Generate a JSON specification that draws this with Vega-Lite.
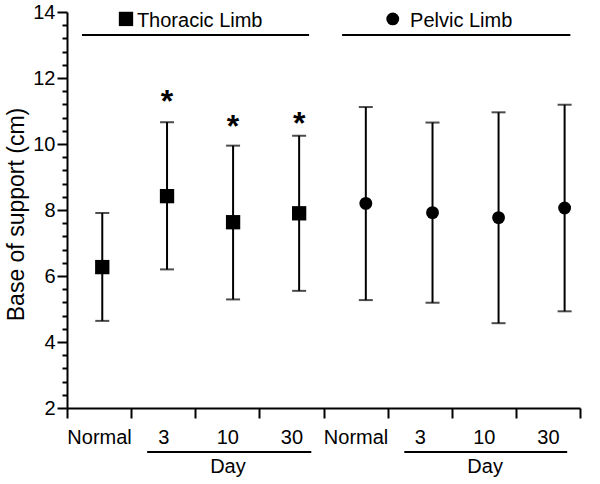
{
  "$schema": "https://vega.github.io/schema/vega-lite/v6.json",
  "width": 513,
  "height": 396,
  "autosize": {"type": "none"},
  "padding": {"left": 67, "top": 12, "right": 20, "bottom": 76},
  "config": {"view": {"stroke": null}, "font": "Liberation Sans"},
  "resolve": {"axis": {"y": "independent"}},
  "datasets": {
    "points": [
      {"limb": "Thoracic", "group": "Normal", "pos": 0.55, "mean": 6.27, "lower": 4.64, "upper": 7.91},
      {"limb": "Thoracic", "group": "3", "pos": 1.56, "mean": 8.42, "lower": 6.2, "upper": 10.66, "sig": 10.97},
      {"limb": "Thoracic", "group": "10", "pos": 2.59, "mean": 7.63, "lower": 5.29, "upper": 9.95, "sig": 10.22},
      {"limb": "Thoracic", "group": "30", "pos": 3.62, "mean": 7.9, "lower": 5.55, "upper": 10.25, "sig": 10.29},
      {"limb": "Pelvic", "group": "Normal", "pos": 4.66, "mean": 8.2, "lower": 5.27, "upper": 11.12},
      {"limb": "Pelvic", "group": "3", "pos": 5.7, "mean": 7.92, "lower": 5.19, "upper": 10.65},
      {"limb": "Pelvic", "group": "10", "pos": 6.73, "mean": 7.77, "lower": 4.57, "upper": 10.96},
      {"limb": "Pelvic", "group": "30", "pos": 7.76, "mean": 8.06, "lower": 4.93, "upper": 11.19}
    ],
    "headers": [
      {"limb": "Thoracic", "label": "Thoracic Limb", "mx": 0.92, "tx": 1.09, "my": 13.79, "ty": 13.55, "x1": 0.234, "x2": 3.775, "ly": 13.3},
      {"limb": "Pelvic", "label": "Pelvic Limb", "mx": 5.08, "tx": 5.35, "my": 13.79, "ty": 13.55, "x1": 4.29, "x2": 7.85, "ly": 13.3}
    ],
    "days": [
      {"label": "Day", "cx": 2.51, "x1": 1.25, "x2": 3.81, "ly": 0.667, "ty": 0.03},
      {"label": "Day", "cx": 6.52, "x1": 5.26, "x2": 7.8, "ly": 0.667, "ty": 0.03}
    ]
  },
  "layer": [
    {
      "data": {"name": "points"},
      "mark": {"type": "rule", "color": "black", "strokeWidth": 2},
      "encoding": {
        "x": {
          "field": "pos", "type": "quantitative",
          "scale": {"domain": [0, 8], "nice": false, "zero": false},
          "axis": {
            "title": null,
            "grid": false,
            "values": [0, 0.5, 1, 1.5, 2, 2.5, 3, 3.5, 4, 4.5, 5, 5.5, 6, 6.5, 7, 7.5, 8],
            "tickCount": 100,
            "labelExpr": "datum.value % 1 == 0.5 ? ['Normal','3','10','30','Normal','3','10','30'][floor(datum.value)] : ''",
            "tickOpacity": {"condition": {"test": "datum.value % 1 != 0", "value": 0}, "value": 1},
            "tickSize": 10,
            "tickWidth": 2,
            "tickColor": "black",
            "domainColor": "black",
            "domainWidth": 2,
            "labelFontSize": 20,
            "labelColor": "black",
            "labelPadding": 9,
            "labelFlush": false,
            "labelOverlap": false
          }
        },
        "y": {
          "field": "lower", "type": "quantitative",
          "scale": {"domain": [2, 14], "nice": false, "zero": false},
          "axis": {
            "orient": "left",
            "title": "Base of support (cm)",
            "grid": false,
            "values": [2, 4, 6, 8, 10, 12, 14],
            "format": "d",
            "tickCount": 100,
            "tickSize": 10,
            "tickWidth": 2,
            "tickColor": "black",
            "domainColor": "black",
            "domainWidth": 2,
            "labelFontSize": 20,
            "labelColor": "black",
            "labelPadding": 2,
            "labelOverlap": false,
            "labelFlush": false,
            "titleFontSize": 23,
            "titleFontWeight": "normal",
            "titleColor": "black",
            "titleX": -51,
            "titleY": 202,
            "titleAngle": -90,
            "titleAlign": "center",
            "titleBaseline": "middle"
          }
        },
        "y2": {"field": "upper"}
      }
    },
    {
      "data": {"name": "points"},
      "mark": {"type": "tick", "orient": "horizontal", "size": 14, "thickness": 2, "color": "black"},
      "encoding": {
        "x": {"field": "pos", "type": "quantitative"},
        "y": {
          "field": "lower", "type": "quantitative",
          "axis": {
            "orient": "left",
            "title": null,
            "grid": false,
            "labels": false,
            "domain": false,
            "values": [2.4, 2.8, 3.2, 3.6, 4.4, 4.8, 5.2, 5.6, 6.4, 6.8, 7.2, 7.6, 8.4, 8.8, 9.2, 9.6, 10.4, 10.8, 11.2, 11.6, 12.4, 12.8, 13.2, 13.6],
            "tickCount": 100,
            "tickSize": 5,
            "tickWidth": 2,
            "tickColor": "black"
          }
        }
      }
    },
    {
      "data": {"name": "points"},
      "mark": {"type": "tick", "orient": "horizontal", "size": 14, "thickness": 2, "color": "black"},
      "encoding": {
        "x": {"field": "pos", "type": "quantitative"},
        "y": {"field": "upper", "type": "quantitative", "axis": null}
      }
    },
    {
      "data": {"name": "points"},
      "mark": {"type": "point", "filled": true, "color": "black", "opacity": 1},
      "encoding": {
        "x": {"field": "pos", "type": "quantitative"},
        "y": {"field": "mean", "type": "quantitative", "axis": null},
        "shape": {"field": "limb", "type": "nominal", "scale": {"domain": ["Thoracic", "Pelvic"], "range": ["square", "circle"]}, "legend": null},
        "size": {"field": "limb", "type": "nominal", "scale": {"domain": ["Thoracic", "Pelvic"], "range": [205, 165]}, "legend": null}
      }
    },
    {
      "data": {"name": "points"},
      "transform": [{"filter": "isValid(datum.sig)"}],
      "mark": {"type": "text", "text": "*", "fontSize": 32, "fontWeight": "bold", "color": "black", "align": "center", "baseline": "alphabetic"},
      "encoding": {
        "x": {"field": "pos", "type": "quantitative"},
        "y": {"field": "sig", "type": "quantitative", "axis": null}
      }
    },
    {
      "data": {"name": "headers"},
      "mark": {"type": "rule", "color": "black", "strokeWidth": 2},
      "encoding": {
        "x": {"field": "x1", "type": "quantitative"},
        "x2": {"field": "x2"},
        "y": {"field": "ly", "type": "quantitative", "axis": null}
      }
    },
    {
      "data": {"name": "headers"},
      "mark": {"type": "point", "filled": true, "color": "black", "opacity": 1},
      "encoding": {
        "x": {"field": "mx", "type": "quantitative"},
        "y": {"field": "my", "type": "quantitative", "axis": null},
        "shape": {"field": "limb", "type": "nominal", "scale": {"domain": ["Thoracic", "Pelvic"], "range": ["square", "circle"]}, "legend": null},
        "size": {"field": "limb", "type": "nominal", "scale": {"domain": ["Thoracic", "Pelvic"], "range": [205, 165]}, "legend": null}
      }
    },
    {
      "data": {"name": "headers"},
      "mark": {"type": "text", "fontSize": 20, "color": "black", "align": "left", "baseline": "alphabetic"},
      "encoding": {
        "x": {"field": "tx", "type": "quantitative"},
        "y": {"field": "ty", "type": "quantitative", "axis": null},
        "text": {"field": "label"}
      }
    },
    {
      "data": {"name": "days"},
      "mark": {"type": "rule", "color": "black", "strokeWidth": 2},
      "encoding": {
        "x": {"field": "x1", "type": "quantitative"},
        "x2": {"field": "x2"},
        "y": {"field": "ly", "type": "quantitative", "axis": null}
      }
    },
    {
      "data": {"name": "days"},
      "mark": {"type": "text", "fontSize": 20, "color": "black", "align": "center", "baseline": "alphabetic"},
      "encoding": {
        "x": {"field": "cx", "type": "quantitative"},
        "y": {"field": "ty", "type": "quantitative", "axis": null},
        "text": {"field": "label"}
      }
    }
  ]
}
